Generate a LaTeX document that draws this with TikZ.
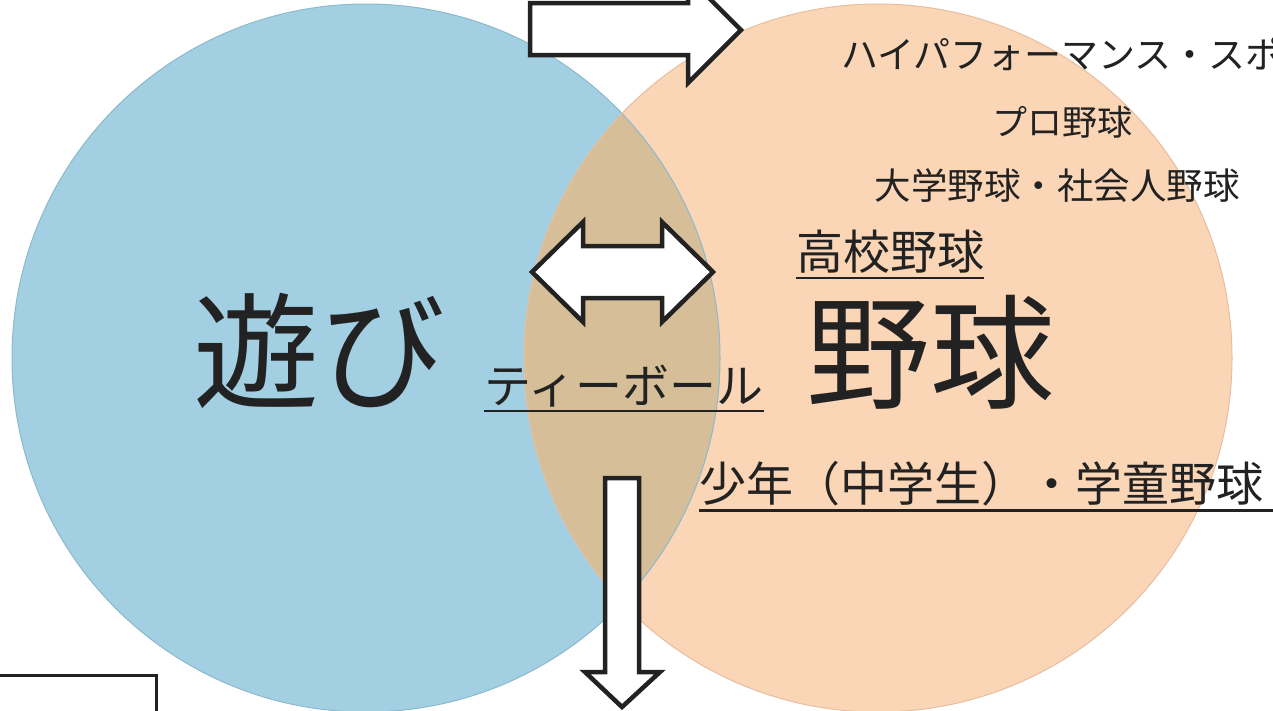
\documentclass[tikz,border=0pt]{standalone}
\usepackage{fontspec}
\setmainfont{Noto Sans CJK JP}
\definecolor{bluec}{RGB}{163,207,227}
\definecolor{orangec}{RGB}{250,213,182}
\definecolor{lensc}{RGB}{214,191,152}
\definecolor{blueedge}{RGB}{140,185,205}
\definecolor{orangeedge}{RGB}{232,190,160}
\definecolor{ink}{RGB}{34,34,34}
\begin{document}
\begin{tikzpicture}[x=1pt,y=-1pt,
  txt/.style={inner sep=0pt, text=ink},
  blockarrow/.style={draw=ink, line width=4.5pt, fill=white, line join=miter},
  uline/.style={draw=ink, line width=2.2pt},
]
\clip (0,0) rectangle (1273,710);
\fill[white] (0,0) rectangle (1273,710);
% circles
\fill[bluec] (366,358) circle (354);
\fill[orangec] (878,358) circle (354);
\begin{scope}
  \clip (366,358) circle (354);
  \fill[lensc] (878,358) circle (354);
\end{scope}
\draw[blueedge, line width=1pt] (366,358) circle (354);
\draw[orangeedge, line width=1pt] (878,358) circle (354);
% block arrows
\draw[blockarrow] (530,3) -- (688,3) -- (688,-23) -- (741,30) -- (688,83) -- (688,55) -- (530,55) -- cycle;
\draw[blockarrow] (532,272) -- (583,222) -- (583,246) -- (662,246) -- (662,222) -- (713,272)
  -- (662,322) -- (662,298) -- (583,298) -- (583,322) -- cycle;
\draw[blockarrow] (605,478) -- (639,478) -- (639,672) -- (660,672) -- (622,707) -- (585,672) -- (605,672) -- cycle;
% bottom-left box
\draw[draw=ink, line width=3pt] (-5,675) rectangle (156,720);
% texts
\node[txt, anchor=west, font=\fontsize{37}{37}\selectfont] (hp) at (841,54) {ハイパフォーマンス・スポ};
\node[txt, font=\fontsize{35}{35}\selectfont] (pro) at (1062,122) {プロ野球};
\node[txt, font=\fontsize{36.5}{36.5}\selectfont] (univ) at (1057,186) {大学野球・社会人野球};
\node[txt, font=\fontsize{47}{47}\selectfont] (hs) at (890,252) {高校野球};
\node[txt, font=\fontsize{124}{124}\selectfont] (yakyu) at (930,352) {野球};
\node[txt, font=\fontsize{126}{126}\selectfont] (asobi) at (319,351) {遊び};
\node[txt, font=\fontsize{47}{47}\selectfont] (tee) at (624,386) {ティーボール};
\node[txt, anchor=west, font=\fontsize{47}{47}\selectfont] (boys) at (699,484) {少年（中学生）・学童野球};
% underlines
\draw[uline] ([yshift=-4pt]hs.south west) -- ([yshift=-4pt]hs.south east);
\draw[uline] ([yshift=-4pt]tee.south west) -- ([yshift=-4pt]tee.south east);
\draw[uline] ([yshift=-4pt]boys.south west) -- ([yshift=-4pt,xshift=20pt]boys.south east);
\end{tikzpicture}
\end{document}
